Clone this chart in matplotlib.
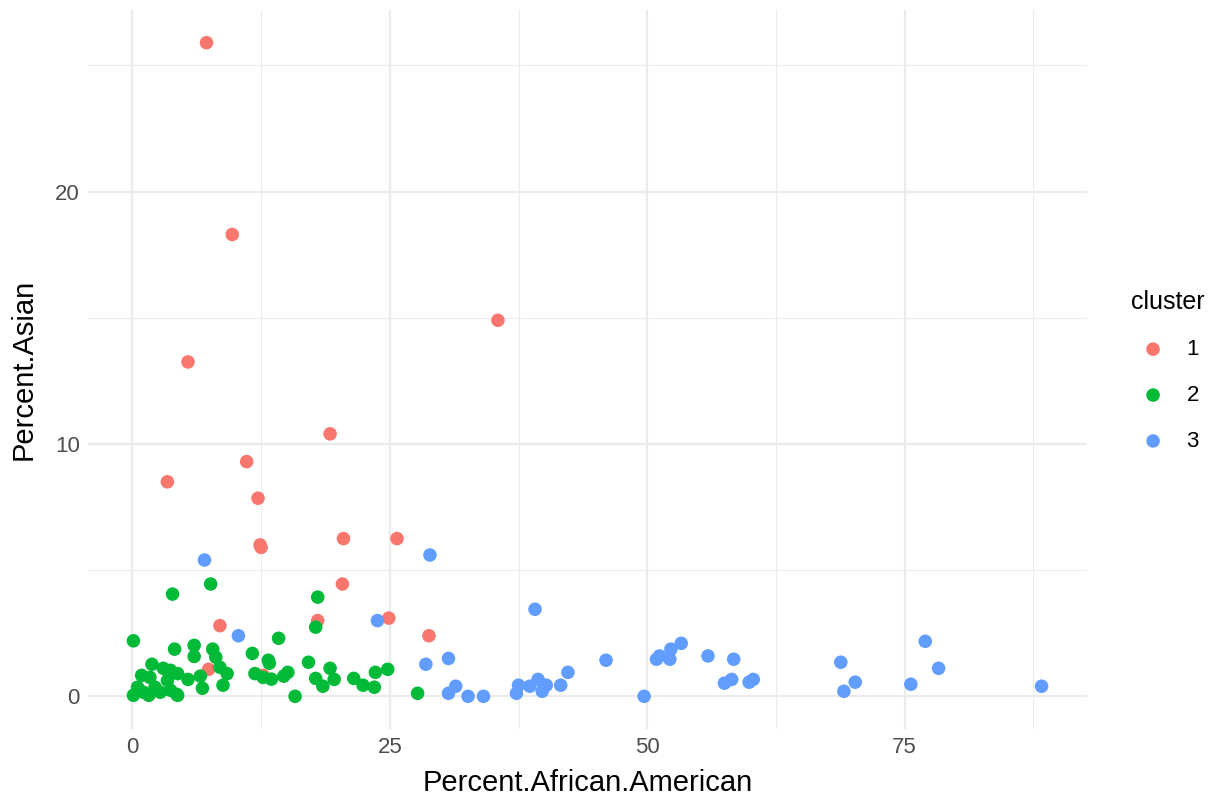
import matplotlib
matplotlib.use("Agg")
import matplotlib.pyplot as plt
import numpy as np

plt.rcParams['font.family'] = ['Liberation Sans', 'DejaVu Sans']

# cluster 1
c1_x = [7.2, 9.7, 35.5, 5.4, 19.2, 11.1, 3.4, 12.2, 12.4, 12.5, 20.5, 25.7,
        20.4, 24.9, 18.0, 8.5, 28.8, 7.4, 12.7]
c1_y = [25.9, 18.3, 14.9, 13.25, 10.4, 9.3, 8.5, 7.85, 6.0, 5.9, 6.25, 6.25,
        4.45, 3.1, 3.0, 2.8, 2.4, 1.07, 0.83]

# cluster 2
c2_x = [7.6, 3.9, 0.1, 4.1, 6.0, 6.0, 7.8, 8.1, 11.65, 14.2, 13.2, 13.3,
        8.5, 9.2, 11.9, 12.7, 13.5, 14.7, 15.1, 15.8, 8.8, 6.8, 6.6, 5.4,
        4.3, 1.9, 3.0, 3.7, 4.4, 0.9, 1.7, 2.2, 0.5, 0.1, 1.6, 4.4, 3.4,
        1.1, 2.7, 3.7, 18.0, 17.8, 17.1, 19.2, 17.8, 18.5, 19.6, 21.5, 22.4,
        23.5, 23.6, 24.8, 27.7]
c2_y = [4.45, 4.05, 2.2, 1.87, 2.02, 1.58, 1.87, 1.55, 1.7, 2.3, 1.43, 1.31,
        1.15, 0.9, 0.9, 0.75, 0.68, 0.8, 0.95, 0.0, 0.44, 0.32, 0.8, 0.67,
        0.08, 1.27, 1.11, 1.03, 0.9, 0.83, 0.75, 0.36, 0.36, 0.04, 0.04, 0.04, 0.63,
        0.16, 0.16, 0.24, 3.93, 2.74, 1.35, 1.11, 0.71, 0.4, 0.67, 0.71, 0.44,
        0.36, 0.95, 1.07, 0.12]

# cluster 3
c3_x = [7.0, 28.9, 10.3, 23.8, 39.1, 28.5, 30.7, 31.4, 30.7, 32.6, 34.1,
        37.5, 37.3, 38.6, 39.4, 40.2, 39.8, 41.6, 42.3, 46.0, 49.7, 50.9,
        51.2, 52.2, 52.3, 53.3, 55.9, 58.4, 57.5, 58.2, 59.9, 60.3, 68.8,
        70.2, 69.1, 75.6, 77.0, 78.3, 88.3]
c3_y = [5.4, 5.6, 2.4, 3.0, 3.45, 1.27, 1.5, 0.4, 0.12, 0.0, 0.0,
        0.44, 0.12, 0.4, 0.67, 0.44, 0.2, 0.44, 0.95, 1.43, 0.0, 1.47,
        1.6, 1.47, 1.87, 2.1, 1.6, 1.47, 0.52, 0.67, 0.56, 0.67, 1.35,
        0.56, 0.2, 0.48, 2.18, 1.11, 0.4]

clusters = ['1', '2', '3']
colors = ['#F8766D', '#00BA38', '#619CFF']
xs = [c1_x, c2_x, c3_x]
ys = [c1_y, c2_y, c3_y]

fig = plt.figure(figsize=(12.26, 7.99), dpi=100)
ax = fig.add_axes([88 / 1226, 1 - 729 / 799, (1087 - 88) / 1226, (729 - 10) / 799])

for lab, col, x, y in zip(clusters, colors, xs, ys):
    ax.scatter(x, y, s=95, color=col, edgecolors='none', label=lab, zorder=3)

all_x = np.concatenate([np.array(v) for v in xs])
all_y = np.concatenate([np.array(v) for v in ys])
dx = (all_x.max() - all_x.min()) * 0.05
dy = (all_y.max() - all_y.min()) * 0.05
ax.set_xlim(all_x.min() - dx, all_x.max() + dx)
ax.set_ylim(all_y.min() - dy, all_y.max() + dy)

ax.set_xticks([0, 25, 50, 75])
ax.set_yticks([0, 10, 20])
ax.set_xticks([12.5, 37.5, 62.5, 87.5], minor=True)
ax.set_yticks([5, 15, 25], minor=True)
ax.grid(True, which='major', color='#EBEBEB', linewidth=1.6, zorder=0)
ax.grid(True, which='minor', color='#EBEBEB', linewidth=0.8, zorder=0)
ax.set_axisbelow(True)
for s in ax.spines.values():
    s.set_visible(False)
ax.tick_params(which='both', length=0, labelsize=16, colors='#4D4D4D', pad=6)

ax.set_xlabel('Percent.African.American', fontsize=21, labelpad=8)
ax.set_ylabel('Percent.Asian', fontsize=21, labelpad=12)

leg = ax.legend(title='cluster', loc='center left', bbox_to_anchor=(1.035, 0.498),
                frameon=False, fontsize=16, title_fontsize=18, markerscale=1.0,
                handletextpad=0.5, labelspacing=1.12, borderaxespad=0)
leg._legend_box.align = 'left'

fig.savefig('out.png', dpi=100)
